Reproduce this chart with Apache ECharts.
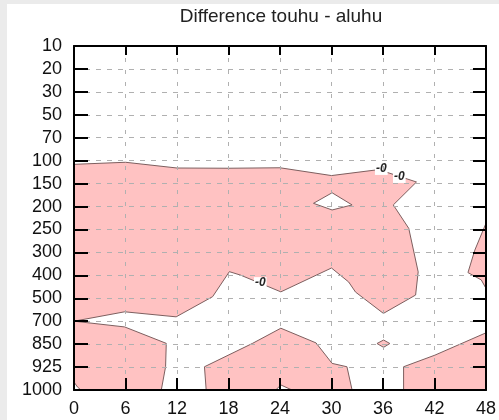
<!DOCTYPE html>
<html>
<head>
<meta charset="utf-8">
<script src="https://cdn.jsdelivr.net/npm/echarts@6/dist/echarts.min.js"></script>
<style>
  html, body { margin: 0; padding: 0; background: #ebebeb; }
  #chart { position: absolute; left: 7px; top: 4px; width: 492px; height: 416px; background: #ffffff; }
</style>
</head>
<body>
<div id="chart"></div>
<script>
// Forecast hours along the x axis and pressure levels (hPa) down the y axis
const hours = [0, 6, 12, 18, 24, 30, 36, 42, 48];
const levels = [10, 20, 30, 50, 70, 100, 150, 200, 250, 300, 400, 500, 700, 850, 925, 1000];

// Zero-contour outlines of the difference field, as [hour, hPa] vertices.
// Positive areas are shaded; holes are drawn back in white.
const positiveUpper = [
  [0, 108], [6, 103.5], [12, 116], [18, 116.5], [24, 115.5], [30, 132.5],
  [35.5, 119.5], [39.9, 146.5], [37.2, 196.5], [39, 247.5], [40.1, 385],
  [39.8, 486], [36.05, 632], [32.8, 473], [32, 429], [30, 368], [24.1, 472],
  [19.4, 399], [18.1, 384], [16.15, 493], [11.9, 662], [5.9, 618], [0, 700]
];
const positiveLowerLeft = [[0, 700], [5.9, 737.5], [10.75, 845], [10.67, 924], [10.17, 1000], [0, 1000]];
const positiveLowerMid = [[15.4, 1000], [15.2, 924], [20.8, 845], [24.1, 746], [28.2, 842], [30.07, 913], [31.8, 924], [32.4, 1000]];
const positiveLowerRight = [[38.4, 1000], [38.4, 924], [42.05, 886], [48, 776], [48, 1000]];
const positiveRightEdge = [[48, 236.5], [46.7, 295], [45.9, 388], [47.45, 420], [48, 457]];
const positiveSpot = [[35.3, 846], [36.07, 823], [36.8, 846], [36.07, 860.5]];
const negativeHole = [[27.9, 193], [30.07, 170], [32.4, 196.5], [30.07, 207.5]];
const negativeBottom = [[23.5, 1000], [24.1, 983.5], [25.4, 1000]];
const negativeCorner = [[0, 1000], [0, 974], [0.4, 990], [0.8, 1000]];

// Contour value labels
const labelHours = [35.8, 37.9, 21.7];
const labelLevels = [118, 135.5, 434];
const labelTexts = ['-0', '-0', '-0'];

const shade = '#ffc2c2';
const contourColor = '#7d5f5f';

const areas = [
  { pts: positiveUpper, fill: shade },
  { pts: positiveLowerLeft, fill: shade },
  { pts: positiveLowerMid, fill: shade },
  { pts: positiveLowerRight, fill: shade },
  { pts: positiveRightEdge, fill: shade },
  { pts: positiveSpot, fill: shade },
  { pts: negativeHole, fill: '#ffffff' },
  { pts: negativeBottom, fill: '#ffffff' },
  { pts: negativeCorner, fill: '#ffffff' }
];

// Position of a pressure value on the evenly spaced level axis
function levelPos(p) {
  if (p <= levels[0]) return 0;
  for (let i = 0; i < levels.length - 1; i++) {
    if (p <= levels[i + 1]) {
      return i + (p - levels[i]) / (levels[i + 1] - levels[i]);
    }
  }
  return levels.length - 1;
}

const chart = echarts.init(document.getElementById('chart'), null, { renderer: 'canvas' });

const font = 'Liberation Sans, Arial, Helvetica, sans-serif';
const frameLine = { show: true, onZero: false, lineStyle: { color: '#000', width: 2 } };

const option = {
  animation: false,
  backgroundColor: '#ffffff',
  grid: { left: 67, top: 42, right: 11, bottom: 30, containLabel: false },
  graphic: [{
    type: 'text',
    x: 274,
    y: 13,
    style: {
      text: 'Difference touhu - aluhu',
      font: '19px ' + font,
      fill: '#222',
      align: 'center',
      verticalAlign: 'middle'
    }
  }],
  xAxis: [
    {
      type: 'value', min: 0, max: hours[hours.length - 1], interval: 6, position: 'bottom', z: 5,
      axisLine: frameLine,
      axisTick: { show: true, inside: true, length: 12, lineStyle: { color: '#000', width: 2 } },
      axisLabel: { fontSize: 18, fontFamily: font, color: '#111', margin: 10,
        formatter: v => hours.indexOf(v) >= 0 ? String(v) : '' },
      splitLine: { show: true, lineStyle: { color: '#b0b0b0', width: 1, type: [4, 8] } }
    },
    {
      type: 'value', min: 0, max: hours[hours.length - 1], interval: 6, position: 'top', z: 5,
      axisLine: frameLine,
      axisTick: { show: true, inside: true, length: 9, lineStyle: { color: '#000', width: 2 } },
      axisLabel: { show: false },
      splitLine: { show: false }
    }
  ],
  yAxis: [
    {
      type: 'value', min: 0, max: levels.length - 1, interval: 1, inverse: true, position: 'left', z: 5,
      axisLine: frameLine,
      axisTick: { show: true, inside: true, length: 14, lineStyle: { color: '#000', width: 2 } },
      axisLabel: { fontSize: 18, fontFamily: font, color: '#111', margin: 12,
        formatter: v => String(levels[v]) },
      splitLine: { show: true, lineStyle: { color: '#b0b0b0', width: 1, type: [5, 6] } }
    },
    {
      type: 'value', min: 0, max: levels.length - 1, interval: 1, inverse: true, position: 'right', z: 5,
      axisLine: frameLine,
      axisTick: { show: true, inside: true, length: 13, lineStyle: { color: '#000', width: 2 } },
      axisLabel: { show: false },
      splitLine: { show: false }
    }
  ],
  series: [
    {
      type: 'custom',
      xAxisIndex: 0, yAxisIndex: 0,
      clip: true,
      z: 2,
      encode: { x: 0, y: 1 },
      data: areas.map((a, i) => [a.pts[0][0], levelPos(a.pts[0][1]), i]),
      renderItem: function (params, api) {
        const a = areas[api.value(2)];
        const points = a.pts.map(p => api.coord([p[0], levelPos(p[1])]));
        return {
          type: 'polygon',
          shape: { points: points },
          style: { fill: a.fill, stroke: contourColor, lineWidth: 1 }
        };
      }
    },
    {
      type: 'custom',
      xAxisIndex: 0, yAxisIndex: 0,
      z: 3,
      encode: { x: 0, y: 1 },
      data: labelHours.map((h, i) => [h, levelPos(labelLevels[i]), i]),
      renderItem: function (params, api) {
        const pt = api.coord([api.value(0), api.value(1)]);
        return {
          type: 'text',
          x: pt[0], y: pt[1],
          style: {
            text: labelTexts[api.value(2)],
            font: 'italic bold 12px ' + font,
            fill: '#222',
            align: 'center',
            verticalAlign: 'middle',
            backgroundColor: '#ffffff',
            padding: [0, 1]
          }
        };
      }
    }
  ]
};

chart.setOption(option);
</script>
</body>
</html>
